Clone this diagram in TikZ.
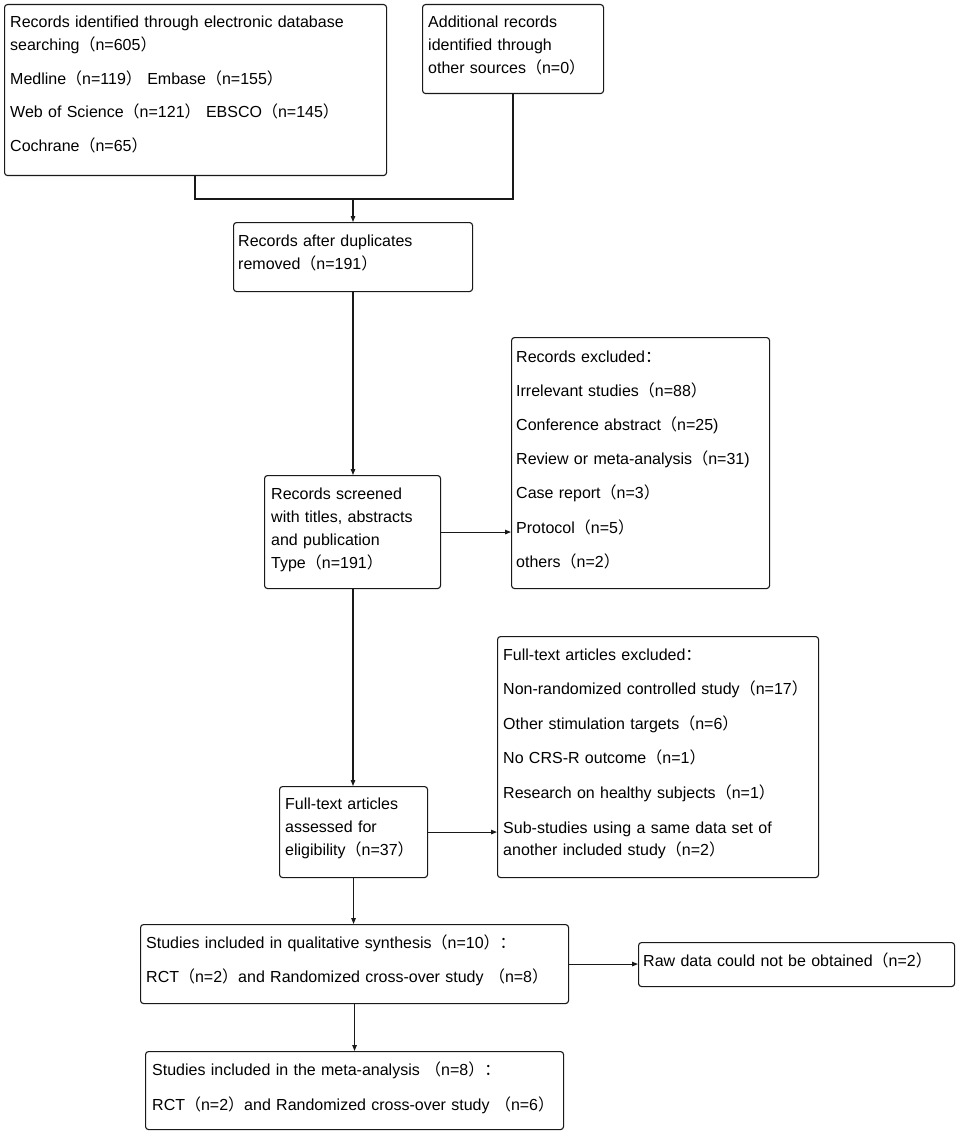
\documentclass[tikz,border=0pt]{standalone}
\usepackage{fontspec}
\setmainfont{Liberation Sans}
\newfontfamily\cjkfont{Noto Sans CJK SC}
\newcommand{\fwl}{{\cjkfont （}}
\newcommand{\fwr}{{\cjkfont ）}}
\newcommand{\fwc}{{\cjkfont ：}}
\usetikzlibrary{arrows.meta}
\tikzset{
  box/.style={draw=black!90, line width=1.1pt, rounded corners=3pt, inner sep=0pt, anchor=north west},
  txt/.style={inner sep=0pt, anchor=base west, align=left, text width=440pt, font=\fontsize{16}{23}\selectfont},
  wide/.style={font=\fontsize{16}{34.2}\selectfont},
  line/.style={draw=black!90, line width=1.1pt},
  arr/.style={line, -{Triangle[length=6pt,width=4.5pt]}}
}
\begin{document}
\begin{tikzpicture}[x=1pt,y=-1pt]
\useasboundingbox (0,0) rectangle (957,1134);
\fill[white] (0,0) rectangle (957,1134);
% boxes
\node[box, minimum width=382pt, minimum height=171pt] (b1) at (4,4) {};
\node[box, minimum width=181pt, minimum height=89pt] (b2) at (422,4) {};
\node[box, minimum width=239pt, minimum height=69pt] (b3) at (233,222) {};
\node[box, minimum width=176pt, minimum height=113pt] (b4) at (264,475) {};
\node[box, minimum width=258pt, minimum height=251pt] (b5) at (511,337) {};
\node[box, minimum width=148pt, minimum height=91pt] (b6) at (279,786) {};
\node[box, minimum width=321pt, minimum height=241pt] (b7) at (497,636) {};
\node[box, minimum width=428pt, minimum height=79pt] (b8) at (140,924) {};
\node[box, minimum width=316pt, minimum height=44pt] (b9) at (638,942) {};
\node[box, minimum width=418pt, minimum height=78pt] (b10) at (145,1051) {};
% texts
\node[txt] (t1) at (10,28) {Records identified through electronic database\\
searching\fwl n=605\fwr\\[10.5pt]
Medline\fwl n=119\fwr\ Embase\fwl n=155\fwr\\[10.5pt]
Web of Science\fwl n=121\fwr\ EBSCO\fwl n=145\fwr\\[10.5pt]
Cochrane\fwl n=65\fwr};
\node[txt] (t2) at (428,28) {Additional records\\identified through\\other sources\fwl n=0\fwr};
\node[txt] (t3) at (238,246) {Records after duplicates\\removed\fwl n=191\fwr};
\node[txt] (t4) at (271,499) {Records screened\\with titles, abstracts\\and publication\\Type\fwl n=191\fwr};
\node[txt, wide] (t5) at (516,362) {Records excluded\fwc\\
Irrelevant studies\fwl n=88\fwr\\
Conference abstract\fwl n=25)\\
Review or meta-analysis\fwl n=31)\\
Case report\fwl n=3\fwr\\
Protocol\fwl n=5\fwr\\
others\fwl n=2\fwr};
\node[txt] (t6) at (285,809) {Full-text articles\\assessed for\\eligibility\fwl n=37\fwr};
\node[txt] (t7) at (503,660) {Full-text articles excluded\fwc\\[11.6pt]
Non-randomized controlled study\fwl n=17\fwr\\[11.6pt]
Other stimulation targets\fwl n=6\fwr\\[11.6pt]
No CRS-R outcome\fwl n=1\fwr\\[11.6pt]
Research on healthy subjects\fwl n=1\fwr\\[11.6pt]
Sub-studies using a same data set of\\[-1pt]
another included study\fwl n=2\fwr};
\node[txt] (t8) at (146,948) {Studies included in qualitative synthesis\fwl n=10\fwr\fwc\\[11pt]
RCT\fwl n=2\fwr and Randomized cross-over study \fwl n=8\fwr};
\node[txt] (t9) at (643,966) {Raw data could not be obtained\fwl n=2\fwr};
\node[txt] (t10) at (152,1075) {Studies included in the meta-analysis \fwl n=8\fwr\fwc\\[12pt]
RCT\fwl n=2\fwr and Randomized cross-over study \fwl n=6\fwr};
% connectors
\coordinate (j1) at (195,199);
\coordinate (j2) at (513,199);
\coordinate (jm) at (353,199);
\draw[line] (b1.south -| j1) -- (j1) -- (j2) -- (b2.south -| j2);
\draw[arr] (jm) -- (b3.north -| jm);
\draw[arr] (b3.south -| jm) -- (b4.north -| jm);
\draw[arr] (b4.east) -- (b4.east -| b5.west);
\draw[arr] (b4.south -| jm) -- (b6.north -| jm);
\draw[arr] (b6.east) -- (b6.east -| b7.west);
\draw[arr] (b6.south) -- (b8.north -| b6.south);
\draw[arr] (b8.east) -- (b8.east -| b9.west);
\draw[arr] (b8.south) -- (b10.north -| b8.south);
\end{tikzpicture}
\end{document}
